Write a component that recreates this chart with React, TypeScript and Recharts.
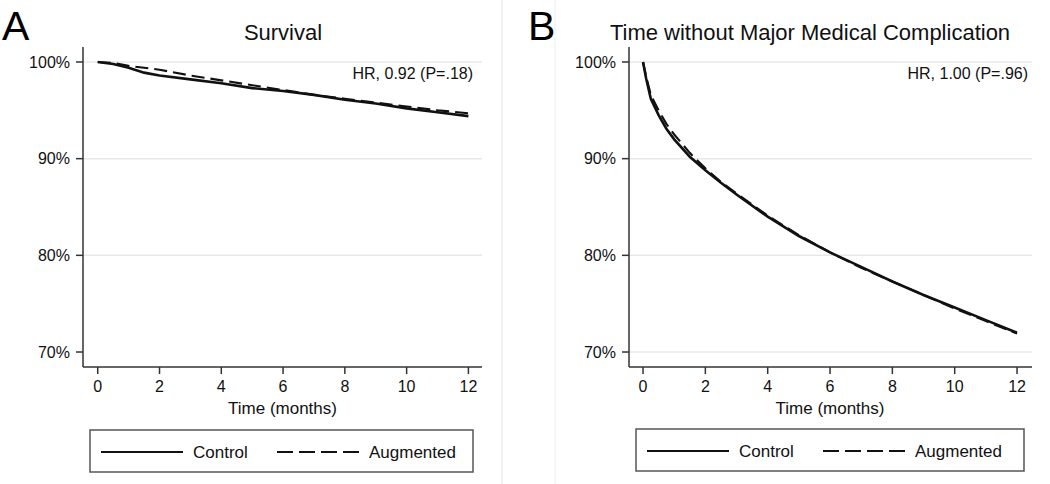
import React from "react";
import { LineChart, Line, XAxis, YAxis, CartesianGrid } from "recharts";

const FONT = "'Liberation Sans', Arial, Helvetica, sans-serif";

// Panel A: Survival
const monthsA = [0, 0.5, 1, 1.5, 2, 3, 4, 5, 6, 7, 8, 9, 10, 11, 12];
const controlA = [100, 99.8, 99.4, 98.9, 98.6, 98.2, 97.8, 97.3, 97.0, 96.6, 96.1, 95.7, 95.2, 94.8, 94.4];
const augmentedA = [100, 99.9, 99.6, 99.4, 99.2, 98.6, 98.1, 97.6, 97.1, 96.6, 96.2, 95.8, 95.4, 95.0, 94.7];

// Panel B: Time without major medical complication
const monthsB = [0, 0.1, 0.25, 0.5, 0.75, 1, 1.5, 2, 2.5, 3, 4, 5, 6, 7, 8, 9, 10, 11, 12];
const controlB = [100, 98.3, 96.2, 94.5, 93.1, 92.0, 90.2, 88.8, 87.5, 86.3, 84.0, 82.0, 80.3, 78.8, 77.3, 75.9, 74.6, 73.3, 72.0];
const augmentedB = [100, 98.5, 96.6, 95.0, 93.6, 92.5, 90.6, 89.0, 87.6, 86.4, 84.1, 82.1, 80.3, 78.7, 77.3, 75.9, 74.5, 73.2, 71.9];

const xTicks = [0, 2, 4, 6, 8, 10, 12];
const yTicks = [70, 80, 90, 100];
const gridA = [80, 90, 100];
const gridB = [70, 80, 90, 100];

const toRows = (months: number[], c: number[], a: number[]) =>
  months.map((m, i) => ({ month: m, control: c[i], augmented: a[i] }));

function Panel({
  left,
  width,
  rows,
  xDomain,
  grid,
}: {
  left: number;
  width: number;
  rows: { month: number; control: number; augmented: number }[];
  xDomain: [number, number];
  grid: number[];
}) {
  return (
    <div style={{ position: "absolute", left, top: 0 }}>
      <LineChart
        width={width}
        height={420}
        data={rows}
        margin={{ top: 47, right: 18, left: 0, bottom: 0 }}
      >
        <CartesianGrid vertical={false} horizontalValues={grid} stroke="#e8e8e8" strokeWidth={1.5} />
        <XAxis
          dataKey="month"
          type="number"
          domain={xDomain}
          ticks={xTicks}
          allowDataOverflow
          height={53}
          tickSize={7}
          tickMargin={7}
          axisLine={{ stroke: "#333", strokeWidth: 1.5 }}
          tickLine={{ stroke: "#333", strokeWidth: 1.5 }}
          tick={{ fill: "#111", fontSize: 16, fontFamily: FONT }}
        />
        <YAxis
          type="number"
          domain={[68.45, 101.55]}
          ticks={yTicks}
          allowDataOverflow
          width={83}
          tickSize={7}
          tickMargin={6}
          tickFormatter={(v) => `${v}%`}
          axisLine={{ stroke: "#333", strokeWidth: 1.5 }}
          tickLine={{ stroke: "#333", strokeWidth: 1.5 }}
          tick={{ fill: "#111", fontSize: 16, fontFamily: FONT }}
        />
        <Line
          dataKey="control"
          type="linear"
          stroke="#111"
          strokeWidth={2.6}
          dot={false}
          isAnimationActive={false}
        />
        <Line
          dataKey="augmented"
          type="linear"
          stroke="#111"
          strokeWidth={2.1}
          strokeDasharray="13 6"
          dot={false}
          isAnimationActive={false}
        />
      </LineChart>
    </div>
  );
}

function LegendBox({ x, y, w }: { x: number; y: number; w: number }) {
  return (
    <g>
      <rect x={x} y={y} width={w} height={42} fill="#fff" stroke="#555" strokeWidth={1.5} />
      <line x1={x + 11} x2={x + 93} y1={y + 22} y2={y + 22} stroke="#111" strokeWidth={2} />
      <text x={x + 103} y={y + 28} fontSize={17} fontFamily={FONT} fill="#111">
        Control
      </text>
      <line
        x1={x + 187}
        x2={x + 270}
        y1={y + 22}
        y2={y + 22}
        stroke="#111"
        strokeWidth={2}
        strokeDasharray="16 6"
      />
      <text x={x + 279} y={y + 28} fontSize={17} fontFamily={FONT} fill="#111">
        Augmented
      </text>
    </g>
  );
}

export default function App() {
  return (
    <div
      style={{
        position: "absolute",
        left: 0,
        top: 0,
        width: 1050,
        height: 484,
        background: "#fff",
        overflow: "hidden",
      }}
    >
      <Panel left={0} width={500} rows={toRows(monthsA, controlA, augmentedA)} xDomain={[-0.477, 12.44]} grid={gridA} />
      <Panel left={546} width={504} rows={toRows(monthsB, controlB, augmentedB)} xDomain={[-0.45, 12.48]} grid={gridB} />
      <svg
        width={1050}
        height={484}
        style={{ position: "absolute", left: 0, top: 0, pointerEvents: "none" }}
      >
        <line x1={502} x2={502} y1={0} y2={484} stroke="#ececec" strokeWidth={1.5} />
        <line x1={555} x2={555} y1={0} y2={484} stroke="#f3f3f3" strokeWidth={1.5} />

        <text x={2} y={40} fontSize={41} fontFamily={FONT} fill="#000">A</text>
        <text x={283} y={40} fontSize={22} fontFamily={FONT} fill="#111" textAnchor="middle">
          Survival
        </text>
        <text x={473} y={79} fontSize={16} fontFamily={FONT} fill="#111" textAnchor="end">
          HR, 0.92 (P=.18)
        </text>
        <text x={282.5} y={414} fontSize={17} fontFamily={FONT} fill="#111" textAnchor="middle">
          Time (months)
        </text>
        <LegendBox x={90} y={430} w={383} />

        <text x={528} y={40} fontSize={41} fontFamily={FONT} fill="#000">B</text>
        <text x={810} y={40} fontSize={22} fontFamily={FONT} fill="#111" textAnchor="middle">
          Time without Major Medical Complication
        </text>
        <text x={1028} y={79} fontSize={16} fontFamily={FONT} fill="#111" textAnchor="end">
          HR, 1.00 (P=.96)
        </text>
        <text x={830} y={414} fontSize={17} fontFamily={FONT} fill="#111" textAnchor="middle">
          Time (months)
        </text>
        <LegendBox x={636} y={429} w={388} />
      </svg>
    </div>
  );
}
